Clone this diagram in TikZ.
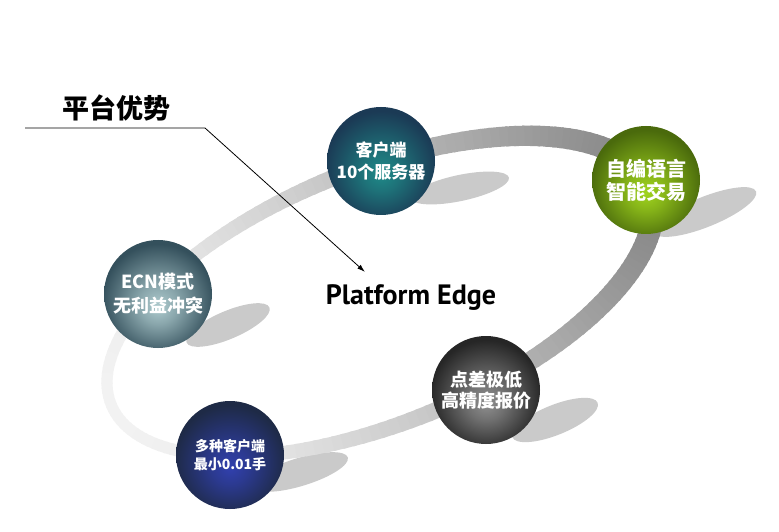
\documentclass[tikz,border=0pt]{standalone}
\usepackage{fontspec}
\setmainfont{PT Sans}
\newfontfamily\cjk{Noto Sans CJK SC}
\usepackage{xcolor}
\usetikzlibrary{arrows.meta}

\definecolor{tealdk}{HTML}{1B3A55}  \definecolor{tealhi}{HTML}{1F8A88}
\definecolor{limedk}{HTML}{4A6A0C}  \definecolor{limehi}{HTML}{A0D41E}
\definecolor{slatedk}{HTML}{34505C} \definecolor{slatehi}{HTML}{AECBCE}
\definecolor{navydk}{HTML}{1E2A46}  \definecolor{navyhi}{HTML}{3140AE}
\definecolor{greydk}{HTML}{262626}  \definecolor{greyhi}{HTML}{909090}
\definecolor{shadowgrey}{HTML}{CACACA}

% sphere look: light spot a bit below the middle
\newcommand\ballshading[3]{%
  \colorlet{#1mid}{#2!70!#3}%
  \pgfdeclareradialshading{#1}{\pgfpoint{0bp}{-6bp}}%
    {color(0bp)=(#2); color(9bp)=(#1mid); color(26bp)=(#3); color(50bp)=(#3)}}
\ballshading{tealball}{tealhi}{tealdk}
\ballshading{limeball}{limehi}{limedk}
\ballshading{slateball}{slatehi}{slatedk}
\ballshading{navyball}{navyhi}{navydk}
\ballshading{greyball}{greyhi}{greydk}

\begin{document}
\begin{tikzpicture}[x=1pt, y=1pt,
  ball/.style={circle, minimum size=108pt, inner sep=0pt, text=white, align=center},
  ballfont/.style 2 args={font=\cjk\bfseries\fontsize{#1}{#2}\selectfont},
  shadowblob/.style={fill=shadowgrey}]
  \fill[white] (0,0) rectangle (779,531);
  \useasboundingbox (0,0) rectangle (779,531);

  % shadows under the spheres
  \fill[shadowblob, rotate around={12:(460,343)}] (460,343) ellipse [x radius=50, y radius=13];
  \fill[shadowblob, rotate around={22:(705,319)}] (705,319) ellipse [x radius=55, y radius=15];
  \fill[shadowblob, rotate around={23:(228,206)}] (228,206) ellipse [x radius=45, y radius=14];
  \fill[shadowblob, rotate around={22:(555,111)}] (555,111) ellipse [x radius=46, y radius=15];
  \fill[shadowblob, rotate around={17:(300,59)}] (300,59) ellipse [x radius=50, y radius=14];

  % the ring, light on the left, dark on the right
  \begin{scope}[shift={(380,235)}, rotate=22]
    \foreach \t [evaluate=\t as \g using {5+42*((1+cos(\t))/2)^1.3},
                 evaluate=\t as \w using {11+11*(1+cos(\t))/2}] in {0,2,...,358}
      \draw[line width=\w pt, black!\g] (\t:290 and 127)
        arc [start angle=\t, end angle=\t+2.6, x radius=290, y radius=127];
  \end{scope}

  \node[ball, shading=tealball, ballfont={17}{22}] (client) at (381,370) {客户端\\10个服务器};
  \node[ball, shading=limeball, ballfont={20}{23}] (script) at (646,351) {自编语言\\智能交易};
  \node[ball, shading=slateball, ballfont={18}{24}] (ecn) at (158,237) {ECN模式\\无利益冲突};
  \node[ball, shading=navyball, ballfont={14}{18}] (lots) at (230,76) {多种客户端\\最小0.01手};
  \node[ball, shading=greyball, ballfont={18}{21}] (spread) at (486,141) {点差极低\\高精度报价};

  \node[font=\cjk\bfseries\fontsize{27}{30}\selectfont] (title) at (116,423) {平台优势};
  \node[font=\bfseries\fontsize{28}{32}\selectfont] (edge) at (411,233) {Platform Edge};

  \coordinate (lineL) at (25,403);
  \coordinate (knee) at (205,403);
  \coordinate (tip) at (365,259);
  \draw[line width=0.8pt, -{Latex[length=8pt, width=5pt]}] (lineL) -- (knee) -- (tip);
\end{tikzpicture}
\end{document}
